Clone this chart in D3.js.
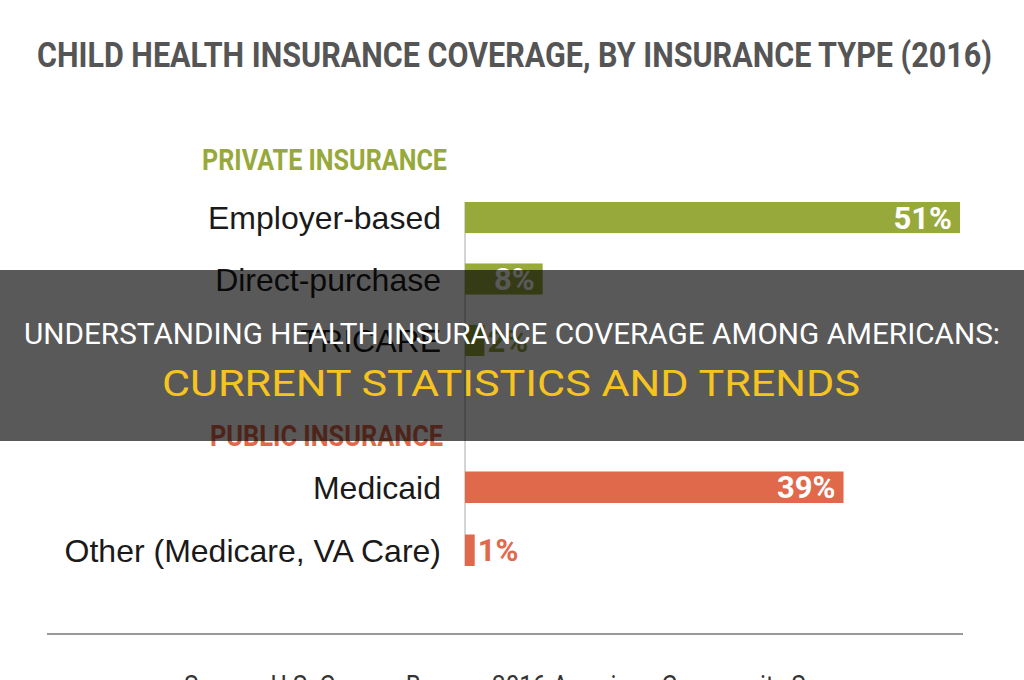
<!DOCTYPE html>
<meta charset="utf-8">
<style>
  body { margin: 0; background: #fff; }
  svg { display: block; }
</style>
<svg width="1024" height="680"></svg>
<script src="https://d3js.org/d3.v7.min.js"></script>
<script>

var title = "CHILD HEALTH INSURANCE COVERAGE, BY INSURANCE TYPE (2016)";
var source = "Source: U.S. Census Bureau, 2016 American Community Survey";

var privateCats = ["Employer-based", "Direct-purchase", "TRICARE"];
var privateVals = [51, 8, 2];
var publicCats = ["Medicaid", "Other (Medicare, VA Care)"];
var publicVals = [39, 1];

var bannerLine1 = "UNDERSTANDING HEALTH INSURANCE COVERAGE AMONG AMERICANS:";
var bannerLine2 = "CURRENT STATISTICS AND TRENDS";

var svg = d3.select("svg"),
    width = +svg.attr("width"),
    height = +svg.attr("height");

svg.append("rect").attr("width", width).attr("height", height).attr("fill", "#fff");

var x = d3.scaleLinear()
    .domain([0, d3.max(privateVals.concat(publicVals))])
    .range([465, 960]);

var yPrivate = d3.scaleBand()
    .domain(privateCats)
    .range([202, 356])
    .paddingInner(0.494);

var yPublic = d3.scaleBand()
    .domain(publicCats)
    .range([471.5, 566])
    .paddingInner(0.5);

var groups = [
  {name: "PRIVATE INSURANCE", color: "#98a93b", cats: privateCats, vals: privateVals, y: yPrivate, hx: 202, hw: 245, hy: 170},
  {name: "PUBLIC INSURANCE", color: "#e0694b", cats: publicCats, vals: publicVals, y: yPublic, hx: 210, hw: 233, hy: 446}
];

// title
svg.append("text")
    .attr("x", 37)
    .attr("y", 67)
    .attr("textLength", 955)
    .attr("lengthAdjust", "spacingAndGlyphs")
    .attr("fill", "#555")
    .style("font", "bold 35px Roboto, sans-serif")
    .text(title);

// axis line
svg.append("line")
    .attr("x1", x(0)).attr("x2", x(0))
    .attr("y1", yPrivate.range()[0]).attr("y2", yPublic.range()[1])
    .attr("stroke", "#aaa")
    .attr("stroke-width", 1);

groups.forEach(function(g) {
  var rows = g.cats.map(function(c, i) { return {cat: c, val: g.vals[i]}; });

  svg.append("text")
      .attr("x", g.hx)
      .attr("y", g.hy)
      .attr("textLength", g.hw)
      .attr("lengthAdjust", "spacingAndGlyphs")
      .attr("fill", g.color)
      .style("font", "bold 29px Roboto, sans-serif")
      .text(g.name);

  var row = svg.append("g").selectAll("g")
    .data(rows)
    .enter().append("g");

  row.append("text")
      .attr("x", 441)
      .attr("y", function(d) { return g.y(d.cat) + g.y.bandwidth() / 2; })
      .attr("dy", "0.36em")
      .attr("text-anchor", "end")
      .attr("fill", "#1a1a1a")
      .style("font", "32px 'Liberation Sans', Arial, sans-serif")
      .text(function(d) { return d.cat; });

  row.append("rect")
      .attr("x", x(0))
      .attr("y", function(d) { return g.y(d.cat); })
      .attr("width", function(d) { return x(d.val) - x(0); })
      .attr("height", g.y.bandwidth())
      .attr("fill", g.color);

  row.append("text")
      .attr("x", function(d) {
        return x(d.val) - x(0) > 60 ? x(d.val) - 8 : x(d.val) + 3;
      })
      .attr("y", function(d) { return g.y(d.cat) + g.y.bandwidth() / 2; })
      .attr("dy", "0.36em")
      .attr("text-anchor", function(d) { return x(d.val) - x(0) > 60 ? "end" : "start"; })
      .attr("fill", function(d) { return x(d.val) - x(0) > 60 ? "#fff" : g.color; })
      .style("font", "bold 31px Roboto, sans-serif")
      .text(function(d) { return d.val + "%"; });
});

// bottom rule and source
svg.append("line")
    .attr("x1", 47).attr("x2", 963)
    .attr("y1", 634).attr("y2", 634)
    .attr("stroke", "#999")
    .attr("stroke-width", 2);

svg.append("text")
    .attr("x", 184)
    .attr("y", 695)
    .attr("textLength", 679)
    .attr("lengthAdjust", "spacingAndGlyphs")
    .attr("fill", "#333")
    .style("font", "28px Roboto, sans-serif")
    .text(source);

// dark banner over the chart
svg.append("rect")
    .attr("x", 0).attr("y", 270)
    .attr("width", width).attr("height", 171)
    .attr("fill", "rgba(0,0,0,0.65)");

svg.append("text")
    .attr("x", 24)
    .attr("y", 344)
    .attr("textLength", 976)
    .attr("lengthAdjust", "spacingAndGlyphs")
    .attr("fill", "#fff")
    .style("font", "30px Roboto, sans-serif")
    .text(bannerLine1);

svg.append("text")
    .attr("x", 162)
    .attr("y", 396)
    .attr("textLength", 698)
    .attr("lengthAdjust", "spacingAndGlyphs")
    .attr("fill", "#f6c41e")
    .style("font", "37px Roboto, sans-serif")
    .text(bannerLine2);

</script>
